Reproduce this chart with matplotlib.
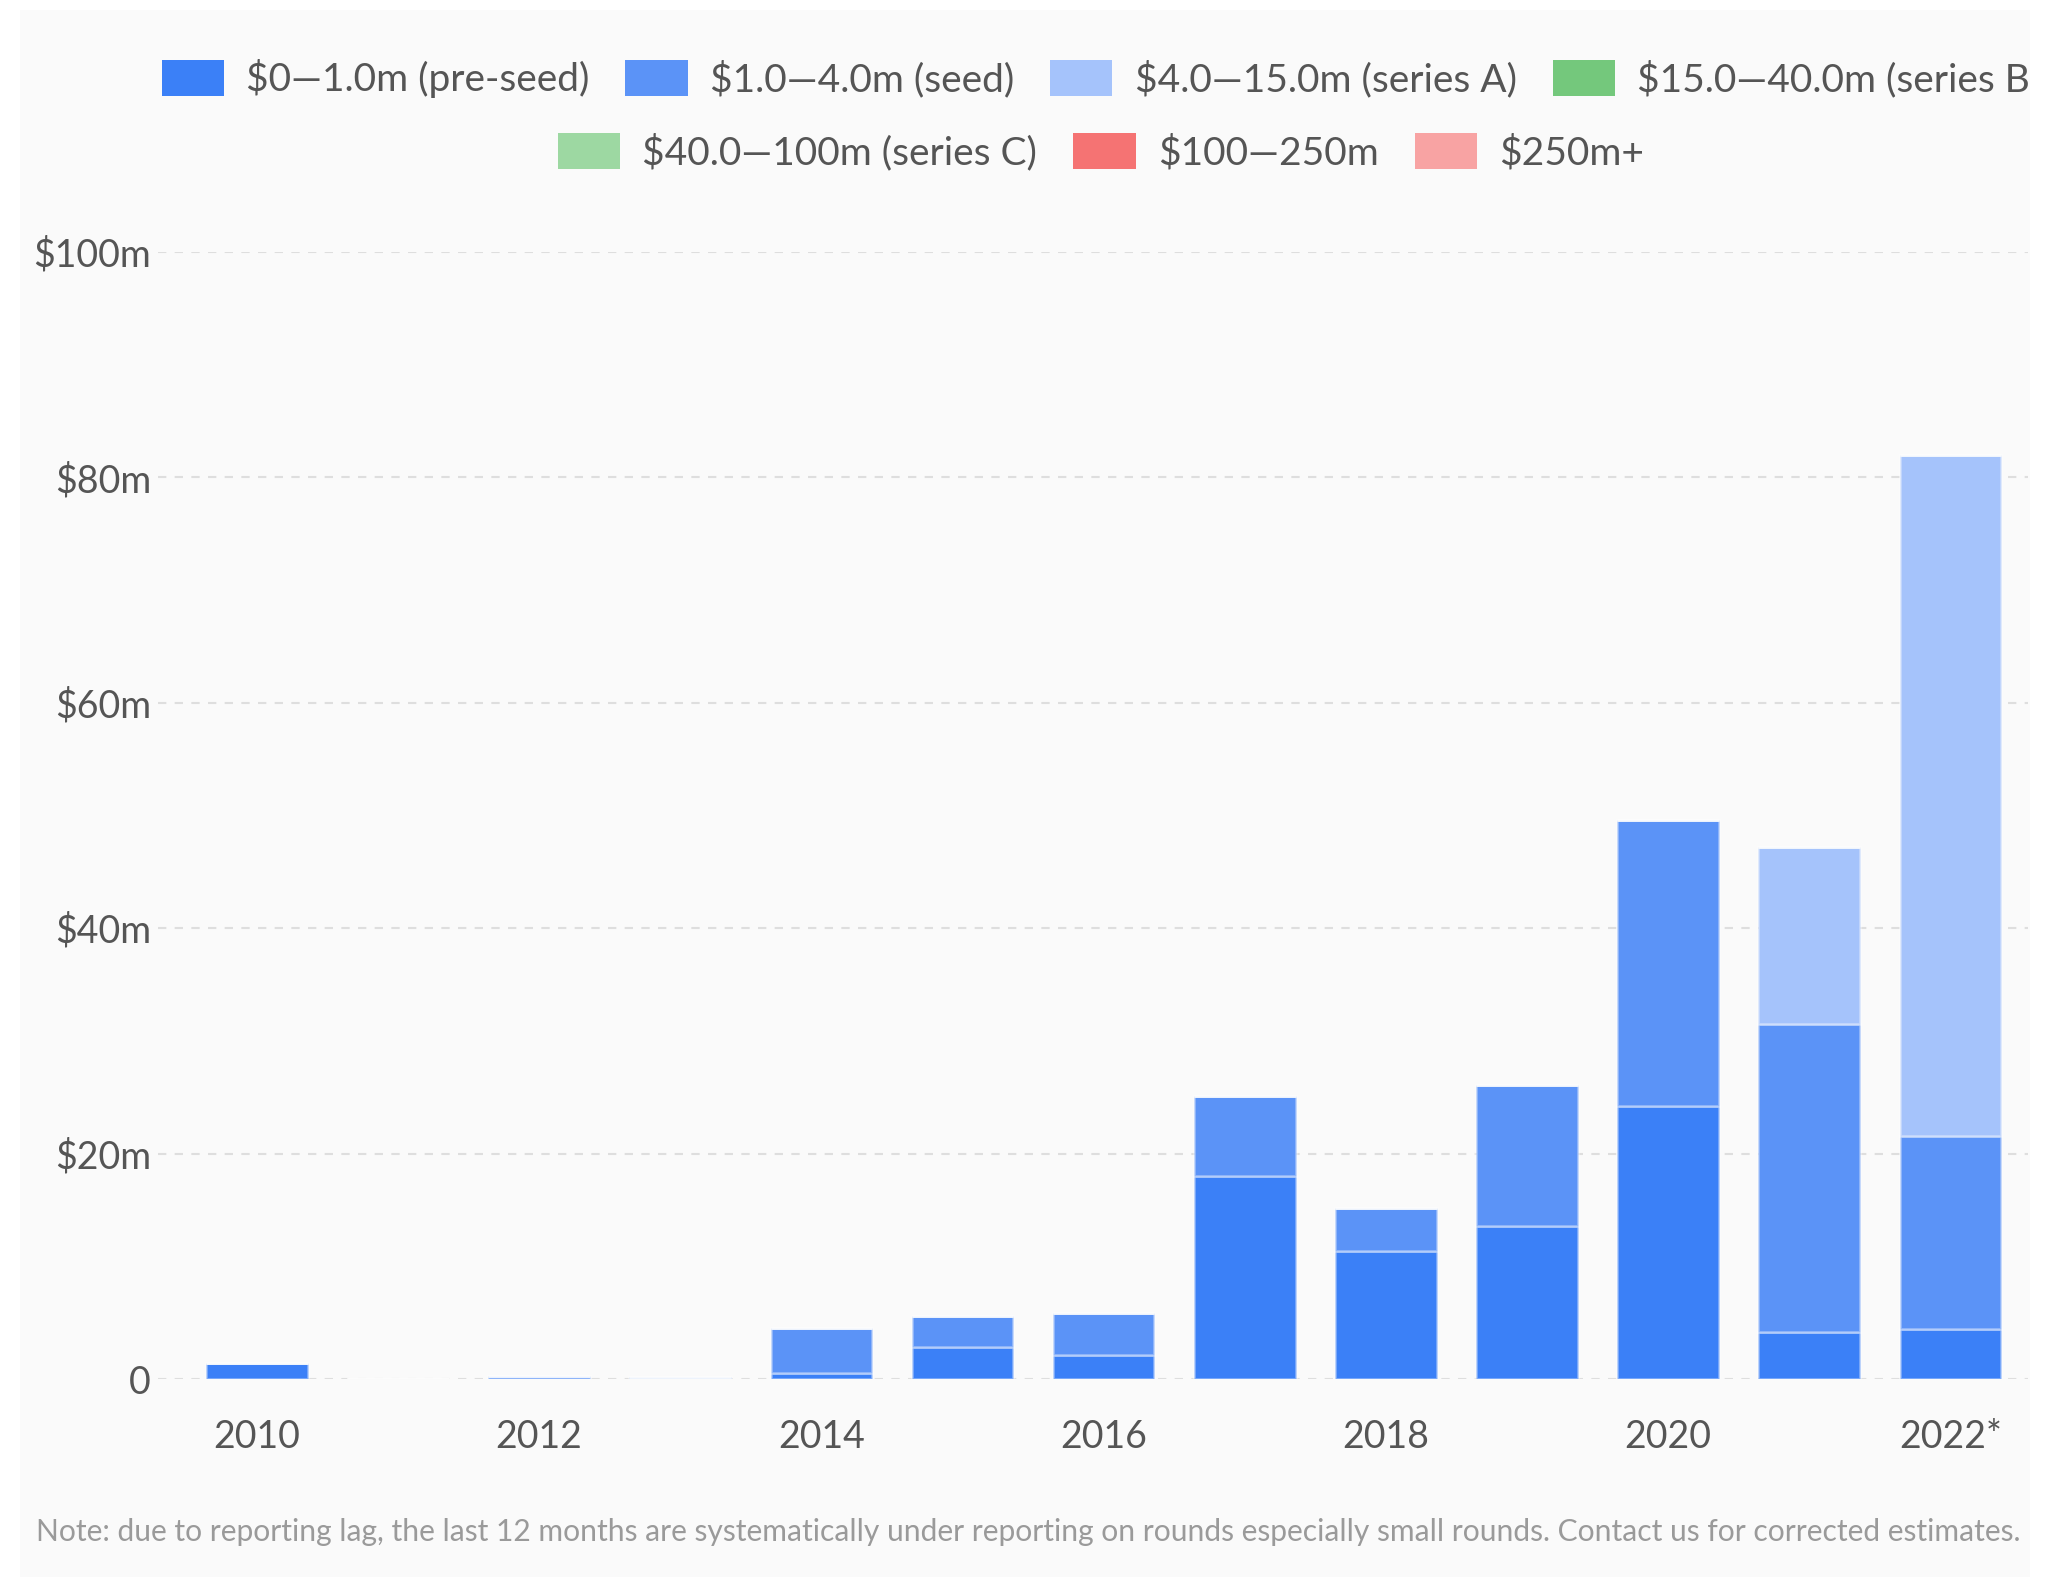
import matplotlib
matplotlib.use("Agg")
import matplotlib.pyplot as plt
from matplotlib.patches import Rectangle, Patch
import numpy as np

plt.rcParams['font.family'] = ['Lato', 'DejaVu Sans']

years = np.arange(2010, 2023)
tick_years = [2010, 2012, 2014, 2016, 2018, 2020, 2022]
tick_labels = ['2010', '2012', '2014', '2016', '2018', '2020', '2022*']

# funding per round size, $m
pre_seed = [1.4, 0.0, 0.0, 0.0, 0.5, 2.8, 2.1, 18.0, 11.4, 13.6, 24.2, 4.2, 4.4]
seed = [0.0, 0.0, 0.3, 0.2, 4.0, 2.8, 3.8, 7.1, 3.8, 12.5, 25.4, 27.3, 17.2]
series_a = [0.0] * 11 + [15.7, 60.4]
series_b = [0.0] * 13
series_c = [0.0] * 13
r100_250 = [0.0] * 13
r250_plus = [0.0] * 13

series = [pre_seed, seed, series_a, series_b, series_c, r100_250, r250_plus]
labels = ['$0—1.0m (pre-seed)', '$1.0—4.0m (seed)', '$4.0—15.0m (series A)',
          '$15.0—40.0m (series B)', '$40.0—100m (series C)', '$100—250m', '$250m+']
colors = ['#3b80f7', '#5b93f7', '#a5c3fb', '#74c87c', '#9dd8a2', '#f57373', '#f8a3a3']

W, H = 2071, 1577
fig = plt.figure(figsize=(W / 100, H / 100), dpi=100, facecolor='white')

# light panel behind everything
fig.patches.append(Rectangle((20 / W, 0), (2030 - 20) / W, 1 - 10 / H,
                             transform=fig.transFigure, facecolor='#fafafa',
                             edgecolor='none', zorder=-10))

ax = fig.add_axes([158 / W, 1 - 1379 / H, (2028 - 158) / W, (1379 - 252) / H])
ax.set_facecolor('none')

bottom = np.zeros(len(years))
for vals, col in zip(series, colors):
    vals = np.array(vals)
    ax.bar(years, vals, 0.72, bottom=bottom, color=col,
           edgecolor=(1, 1, 1, 0.35), linewidth=2, zorder=3)
    bottom += vals

ax.set_xlim(2009.3, 2022.55)
ax.set_ylim(0, 100)
ax.set_yticks([0, 20, 40, 60, 80, 100])
ax.set_yticklabels(['0', '$20m', '$40m', '$60m', '$80m', '$100m'])
ax.set_xticks(tick_years)
ax.set_xticklabels(tick_labels)
ax.tick_params(axis='y', length=0, pad=5, labelsize=27, labelcolor='#555555')
ax.tick_params(axis='x', length=0, pad=29, labelsize=27, labelcolor='#555555')
ax.grid(axis='y', color='#dedede', linestyle=(0, (4, 4)), linewidth=1.5, zorder=0)
ax.set_axisbelow(True)
for s in ax.spines.values():
    s.set_visible(False)

handles = [Patch(facecolor=c, edgecolor='none') for c in colors]
leg_kw = dict(loc='center', frameon=False, fontsize=28, labelcolor='#555555',
              handlelength=1.6, handleheight=1.03, handletextpad=0.57,
              columnspacing=0.93, borderpad=0, borderaxespad=0)
leg1 = fig.legend(handles[:4], labels[:4], ncol=4,
                  bbox_to_anchor=(1101 / W, 1 - 79 / H), **leg_kw)
leg2 = fig.legend(handles[4:], labels[4:], ncol=3,
                  bbox_to_anchor=(1101 / W, 1 - 152 / H), **leg_kw)

fig.text(36 / W, 1 - 1532 / H,
         'Note: due to reporting lag, the last 12 months are systematically under reporting '
         'on rounds especially small rounds. Contact us for corrected estimates.',
         fontsize=21.6, color='#9a9a9a', va='center', ha='left')

# white margin on the right trims anything running past the panel
fig.patches.append(Rectangle((2030 / W, 0), 1, 1, transform=fig.transFigure,
                             facecolor='white', edgecolor='none', zorder=20))

fig.savefig('out.png', dpi=100, facecolor='white')
